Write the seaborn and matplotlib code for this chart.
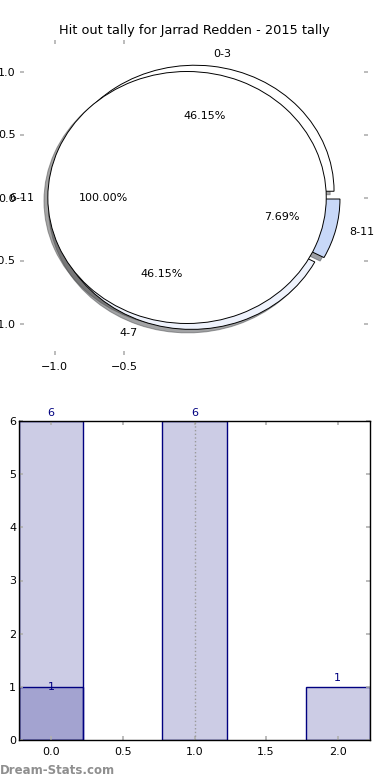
import matplotlib
matplotlib.use("Agg")
import matplotlib.pyplot as plt
import seaborn as sns
import numpy as np
import pandas as pd

# ---- data ----
title = "Hit out tally for Jarrad Redden - 2015 tally"
ring_labels = ["0-3", "4-7", "8-11"]
ring_values = [6, 6, 1]
ring_colors = ["#ffffff", "#eef2fc", "#c8d8f8"]
inner_labels = ["6-11"]
inner_values = [1]
inner_colors = ["#ffffff"]
pie_xticks = [-1.0, -0.5]
pie_yticks = [-1.0, -0.5, 0.0, 0.5, 1.0]

bar_x = [0, 1, 2]
bar_total = [6, 6, 1]
bar_sub_x = [0]
bar_sub = [1]
ref_line_x = 1.0
bar_xticks = [0.0, 0.5, 1.0, 1.5, 2.0]
bar_yticks = [0, 1, 2, 3, 4, 5, 6]
watermark = "Dream-Stats.com"

navy = "#000080"
tick_grey = "#b0b0b0"

fig = plt.figure(figsize=(3.9, 7.8), dpi=100)

# ---- pie axes ----
ax1 = fig.add_axes([20 / 390, 1 - 355 / 780, 348 / 390, 315 / 780])
ax1.pie(ring_values, labels=ring_labels, colors=ring_colors, explode=[0.05] * len(ring_values),
        autopct="%.2f%%", shadow=True, startangle=0,
        wedgeprops=dict(edgecolor="black", linewidth=0.7),
        textprops=dict(fontsize=8))
ax1.pie(inner_values, labels=inner_labels, colors=inner_colors, explode=[0.05] * len(inner_values),
        autopct="%.2f%%", shadow=True, startangle=0,
        wedgeprops=dict(edgecolor="black", linewidth=0.7),
        textprops=dict(fontsize=8))
ax1.set_aspect("auto")
ax1.set_xlim(-1.25, 1.25)
ax1.set_ylim(-1.25, 1.25)
ax1.set_xticks(pie_xticks)
ax1.set_yticks(pie_yticks)
ax1.set_frame_on(False)
ax1.tick_params(direction="in", length=3, width=1.2, color=tick_grey, labelsize=8,
                top=True, right=True, pad=3)
ax1.tick_params(axis="x", pad=5)
ax1.set_title(title, fontsize=9.3, pad=4)

# ---- bar axes ----
ax2 = fig.add_axes([19 / 390, 40 / 780, 351 / 390, 319 / 780])
df_total = pd.DataFrame({"x": bar_x, "y": bar_total})
df_sub = pd.DataFrame({"x": bar_sub_x, "y": bar_sub})
sns.barplot(data=df_total, x="x", y="y", native_scale=True, width=0.45, ax=ax2,
            color=navy, errorbar=None)
sns.barplot(data=df_sub, x="x", y="y", native_scale=True, width=0.45, ax=ax2,
            color=navy, errorbar=None)
for p in ax2.patches:
    p.set_facecolor((0, 0, 0.5, 0.2))
    p.set_edgecolor(navy)
    p.set_linewidth(1.0)

for xv, yv in zip(bar_x, bar_total):
    ax2.annotate(str(yv), (xv, yv), xytext=(0, 2.5), textcoords="offset points",
                 ha="center", va="bottom", color=navy, fontsize=8)
for xv, yv in zip(bar_sub_x, bar_sub):
    ax2.text(xv, yv, str(yv), ha="center", va="center", color=navy, fontsize=8)

ax2.axvline(ref_line_x, color="#999999", linestyle=":", linewidth=1.0)
ax2.set_xlim(-0.225, 2.225)
ax2.set_ylim(0, 6)
ax2.set_xticks(bar_xticks)
ax2.set_xticklabels([f"{v:.1f}" for v in bar_xticks])
ax2.set_yticks(bar_yticks)
ax2.set_xlabel("")
ax2.set_ylabel("")
ax2.tick_params(direction="in", length=3, width=1.2, color=tick_grey, labelsize=8,
                top=True, right=True)
ax2.tick_params(axis="y", pad=2)
ax2.tick_params(axis="x", pad=5)
for s in ax2.spines.values():
    s.set_color("black")
    s.set_linewidth(1.0)

fig.text(0.0, 1 - 770 / 780, watermark, color="#8f8f8f", fontsize=8.5,
         fontweight="semibold", ha="left", va="center")

fig.savefig("out.png", dpi=100)
